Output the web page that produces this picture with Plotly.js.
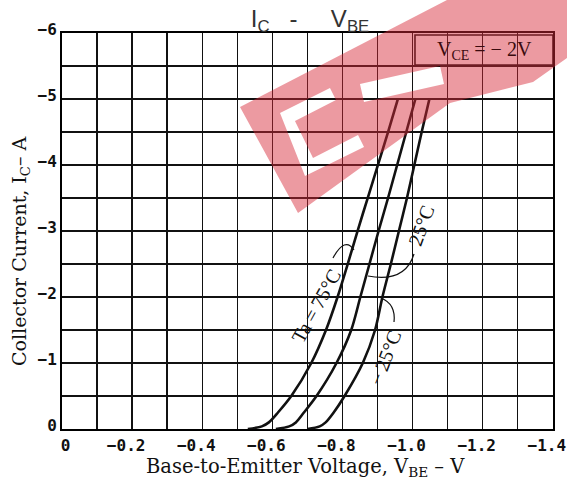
<!DOCTYPE html>
<html><head><meta charset="utf-8">
<script src="https://cdn.plot.ly/plotly-3.0.1.min.js"></script>
<style>html,body{margin:0;padding:0;background:#fff}#chart{width:567px;height:488px}</style>
</head><body><div id="chart"></div>
<script>
// Collector current (A) sample levels, shared by the three curves
const icA      = [0, -0.04, -0.1, -0.25, -0.5, -1.0, -1.5, -2.0, -2.5, -3.0, -3.5, -4.0, -4.5, -5.0];
// Base-to-emitter voltage (V) for each ambient temperature
const vbeTa75  = [-0.53, -0.57, -0.59, -0.616, -0.654, -0.711, -0.753, -0.786, -0.815, -0.843, -0.872, -0.901, -0.930, -0.958];
const vbeTa25  = [-0.61, -0.648, -0.667, -0.690, -0.726, -0.783, -0.825, -0.851, -0.877, -0.903, -0.930, -0.956, -0.982, -1.008];
const vbeTaM25 = [-0.70, -0.735, -0.752, -0.775, -0.806, -0.858, -0.893, -0.914, -0.938, -0.961, -0.984, -1.005, -1.026, -1.048];

const xTickVals = [0, -0.1, -0.2, -0.3, -0.4, -0.5, -0.6, -0.7, -0.8, -0.9, -1.0, -1.1, -1.2, -1.3, -1.4];
const xTickText = ['0', '', '\u22120.2', '', '\u22120.4', '', '\u22120.6', '', '\u22120.8', '', '\u22121.0', '', '\u22121.2', '', '\u22121.4'];
const yTickVals = [0, -0.5, -1, -1.5, -2, -2.5, -3, -3.5, -4, -4.5, -5, -5.5, -6];
const yTickText = ['0', '', '\u22121', '', '\u22122', '', '\u22123', '', '\u22124', '', '\u22125', '', '\u22126'];

// plot frame in pixels (for decoration placement only)
const L = 62, R = 553, T = 33, B = 429;
function P(x, y) { return [(x - L) / (R - L), (B - y) / (B - T)]; }
function pp(x, y) { const p = P(x, y); return p[0].toFixed(4) + ',' + p[1].toFixed(4); }
function poly(pts) { return pts.map((p, i) => (i ? 'L' : 'M') + pp(p[0], p[1])).join(' ') + ' Z'; }
function curve(a, c, b) { return 'M' + pp(a[0], a[1]) + ' Q' + pp(c[0], c[1]) + ' ' + pp(b[0], b[1]); }
function lbl(cx, cy, text, size, angle, fam) {
  return {xref: 'paper', yref: 'paper', x: P(cx, 0)[0], y: P(0, cy)[1], xanchor: 'center', yanchor: 'middle',
          showarrow: false, textangle: angle || 0, text: text, font: {family: fam, size: size, color: '#111'}};
}

const lineStyle = {color: '#111', width: 2.6, shape: 'spline', smoothing: 0.8};
const traces = [
  {x: vbeTa75, y: icA, mode: 'lines', line: lineStyle, hoverinfo: 'skip', name: 'Ta=75°C'},
  {x: vbeTa25, y: icA, mode: 'lines', line: lineStyle, hoverinfo: 'skip', name: '25°C'},
  {x: vbeTaM25, y: icA, mode: 'lines', line: lineStyle, hoverinfo: 'skip', name: '-25°C'}
];

const serif = 'DejaVu Serif';
const tser = 'Liberation Serif';
const vce = lbl(484, 50, 'V<sub>CE</sub> = \u2212 2V', 20, 0, tser);
vce.font.color = '#3a0a0e';

const tickFont = {family: 'DejaVu Sans Mono', size: 16, color: '#111', weight: 'bold'};
const layout = {
  width: 567, height: 488,
  margin: {l: L, r: 567 - R, t: T, b: 488 - B},
  paper_bgcolor: '#fff', plot_bgcolor: '#fff',
  showlegend: false,
  title: {text: 'I<sub>C</sub>\u00a0\u00a0\u00a0-\u00a0\u00a0\u00a0\u00a0\u00a0V<sub>BE</sub>',
          font: {family: 'Liberation Sans', size: 24, color: '#333'},
          x: 310 / 567, xanchor: 'center', y: 1 - 19 / 488, yanchor: 'middle'},
  xaxis: {range: [0.0001, -1.4006], autorange: false, tickvals: xTickVals,
          ticktext: xTickText.map(t => t === '0' ? '\u00a0\u00a0' + t : t),
          ticklabelshift: 6, ticklabelstandoff: 1, ticklabeloverflow: 'allow',
          showgrid: true, gridcolor: '#111', gridwidth: 1.5, zeroline: false,
          showline: true, mirror: true, linecolor: '#000', linewidth: 2, ticks: '',
          tickfont: tickFont},
  yaxis: {range: [0.0001, -6.0004], autorange: false, tickvals: yTickVals, ticktext: yTickText,
          ticklabelshift: 4,
          showgrid: true, gridcolor: '#111', gridwidth: 1.6, zeroline: false,
          showline: true, mirror: true, linecolor: '#000', linewidth: 2, ticks: '',
          tickfont: tickFont},
  annotations: [
    lbl(305, 467, 'Base-to-Emitter Voltage, V<sub>BE</sub> \u2013 V', 19.5, 0, serif),
    lbl(20, 251, 'Collector Current, I<sub>C</sub>\u2013 A', 19, -90, serif),
    vce,
    lbl(316, 306, 'Ta\u2009=\u200975°C', 20, -61, tser),
    lbl(421, 226, '25°C', 20, -70, tser),
    lbl(385, 358, '\u2212\u200925°C', 20, -69, tser)
  ],
  shapes: [
    // white interior of the V_CE box (hides grid), then its border
    {type: 'path', xref: 'paper', yref: 'paper', layer: 'between', path: poly([[415, 35], [553, 35], [553, 65], [415, 65]]),
     fillcolor: '#fff', line: {color: '#111', width: 1.6}},
    // leader arcs
    {type: 'path', xref: 'paper', yref: 'paper', path: curve([333, 258], [345, 236], [354, 250]), line: {color: '#111', width: 1.2}},
    {type: 'path', xref: 'paper', yref: 'paper', path: curve([414, 254], [405, 283], [368, 276]), line: {color: '#111', width: 1.2}},
    {type: 'path', xref: 'paper', yref: 'paper', path: curve([394, 322], [396, 304], [381, 298]), line: {color: '#111', width: 1.2}},
    // watermark band with letter cut-outs
    {type: 'path', xref: 'paper', yref: 'paper', layer: 'above', fillrule: 'evenodd',
     path: poly([[240, 107], [298, 213], [450, 103], [533, 82], [567, 58], [567, 0], [447, 0]]) + ' ' +
           poly([[280, 113], [330, 88], [336, 100], [295, 121], [313, 158], [358, 135], [364, 147], [305, 176]]) + ' ' +
           poly([[360, 84], [440, 66], [444, 84], [364, 102]]),
     fillcolor: 'rgba(214,40,56,0.47)', line: {width: 0}}
  ]
};

Plotly.newPlot('chart', traces, layout, {staticPlot: true, displayModeBar: false});
</script></body></html>
